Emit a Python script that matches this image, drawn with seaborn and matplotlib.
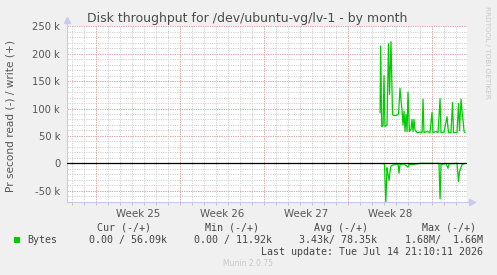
import matplotlib
matplotlib.use("Agg")
import matplotlib.pyplot as plt
import seaborn as sns
import pandas as pd
import numpy as np

# ---- data (x in days from left edge of the month window, values in bytes/s) ----
write_day = [26.13, 26.18, 26.27, 26.38, 26.46, 26.54, 26.71, 26.83, 26.92, 27.04,
             27.17, 27.29, 27.54, 27.67, 27.79, 27.88, 27.96, 28.04, 28.13, 28.21,
             28.29, 28.38, 28.46, 28.58, 28.71, 28.79, 28.88, 28.96, 29.04, 29.21,
             29.46, 29.63, 29.71, 29.79, 30.04, 30.29, 30.46, 30.54, 30.79, 30.96,
             31.13, 31.21, 31.46, 31.71, 31.83, 32.04, 32.17, 32.25, 32.54, 32.67,
             32.75, 32.79, 32.88, 32.96, 33.04, 33.13, 33.21]
write_k = [92, 214, 67, 68, 160, 67, 70, 218, 126, 222,
           89, 87, 88, 90, 137, 113, 98, 70, 95, 58,
           89, 58, 130, 58, 62, 80, 58, 80, 61, 56,
           57, 56, 117, 56, 58, 56, 93, 56, 58, 56,
           118, 56, 57, 85, 56, 56, 111, 56, 56, 109,
           60, 80, 117, 95, 80, 58, 56]
read_day = [26.38, 26.50, 26.61, 26.71, 26.79, 26.88, 26.96, 27.04, 27.21, 27.46,
            27.63, 27.71, 27.79, 28.13, 28.46, 28.54, 28.88, 29.21, 29.46, 31.04,
            31.13, 31.21, 31.63, 31.79, 31.88, 32.54, 32.67, 32.75, 32.83, 32.96, 33.21]
read_k = [0, -2, -72, -8, -20, -31, -15, -5, -3, -2,
          -1, -18, -2, -1, -7, -2, -2, -1, 0, 0,
          -65, -2, 0, -9, -1, 0, -33, -15, -10, -2, 0]

y_ticks = [-50000, 0, 50000, 100000, 150000, 200000, 250000]
y_ticklabels = ["-50 k", "0", "50 k", "100 k", "150 k", "200 k", "250 k"]
week_labels = ["Week 25", "Week 26", "Week 27", "Week 28"]
week_starts = [2.46, 9.46, 16.46, 23.46, 30.46]

title = "Disk throughput for /dev/ubuntu-vg/lv-1 - by month"
ylabel = "Pr second read (-) / write (+)"
legend_head = ["Cur (-/+)", "Min (-/+)", "Avg (-/+)", "Max (-/+)"]
legend_vals = ["0.00 / 56.09k", "0.00 / 11.92k", "3.43k/ 78.35k", "1.68M/  1.66M"]
last_update = "Last update: Tue Jul 14 21:10:11 2026"

# ---- style ----
sns.set_theme(style="white")
plt.rcParams["font.family"] = ["DejaVu Sans"]

W, H = 497, 275
fig = plt.figure(figsize=(W / 100, H / 100), dpi=100, facecolor="#F0F0F0")


def P(x, y):
    return (x / W, 1 - y / H)


ax_l, ax_r, ax_t, ax_b = 66.5, 467.5, 26.3, 201.7
ax = fig.add_axes([ax_l / W, 1 - ax_b / H, (ax_r - ax_l) / W, (ax_b - ax_t) / H])
ax.set_facecolor("white")
ax.set_xlim(0, (ax_r - ax_l) / 12.0)
ax.set_ylim(-70000, 250000)

minor_c = "#D0D0D0"
major_c = "#E4A8A8"
dot = (0, (1.2, 1.2))
# minor grid
for d in np.arange(week_starts[0] - 2, ax.get_xlim()[1], 1.0):
    ax.axvline(d, color=minor_c, lw=0.7, ls=dot, zorder=0.5)
for v in np.arange(-70000, 250001, 10000):
    ax.axhline(v, color=minor_c, lw=0.7, ls=dot, zorder=0.5)
# major grid
for d in week_starts:
    ax.axvline(d, color=major_c, lw=0.7, ls=dot, zorder=0.6)
for v in y_ticks:
    ax.axhline(v, color=major_c, lw=0.7, ls=dot, zorder=0.6)

df_w = pd.DataFrame({"day": write_day, "val": np.array(write_k) * 1000.0})
df_r = pd.DataFrame({"day": read_day, "val": np.array(read_k) * 1000.0})
sns.lineplot(data=df_w, x="day", y="val", ax=ax, color="#00CC00", lw=0.9,
             sort=False, estimator=None, zorder=3)
sns.lineplot(data=df_r, x="day", y="val", ax=ax, color="#00CC00", lw=0.9,
             sort=False, estimator=None, zorder=3)
ax.axhline(0, color="black", lw=0.9, zorder=4)

# axes / ticks
ax.set_xlabel("")
ax.set_ylabel("")
for s in ["top", "right"]:
    ax.spines[s].set_visible(False)
for s in ["left", "bottom"]:
    ax.spines[s].set_color("#C8C8F0")
    ax.spines[s].set_linewidth(0.8)
ax.set_yticks(y_ticks)
ax.set_yticklabels(y_ticklabels, fontsize=7.2, color="#555555")
ax.tick_params(axis="y", length=2, width=0.7, color="#999999", pad=2.5)
mids = [(week_starts[i] + week_starts[i + 1]) / 2 for i in range(4)]
ax.set_xticks(mids)
ax.set_xticklabels(week_labels, fontsize=7.4, color="#555555")
ax.tick_params(axis="x", length=0, pad=5)
ax.set_xticks(list(np.arange(week_starts[0] - 2, ax.get_xlim()[1], 1.0)), minor=True)
ax.tick_params(axis="x", which="minor", length=2, width=0.6, color="#BBBBBB", bottom=True)

# arrows
ax.plot([0], [1.035], marker="^", ms=4, color="#C8C8F0", transform=ax.transAxes, clip_on=False)
ax.plot([0, 0], [1, 1.03], color="#C8C8F0", lw=0.8, transform=ax.transAxes, clip_on=False)
ax.plot([1.01], [0], marker=">", ms=4, color="#C8C8F0", transform=ax.transAxes, clip_on=False)
ax.plot([1, 1.01], [0, 0], color="#C8C8F0", lw=0.8, transform=ax.transAxes, clip_on=False)

# texts
fig.text(*P(247.5, 18.5), title, fontsize=9.0, color="#4A4A4A", ha="center", va="center")
fig.text(*P(10.5, 116), ylabel, fontsize=7.6, color="#555555", ha="center", va="center",
         rotation=90)
fig.text(*P(487, 52), "RRDTOOL / TOBI OETIKER", fontsize=5.2, color="#C8C8C8",
         ha="center", va="center", rotation=270)

mono = "DejaVu Sans Mono"
head_x = [151, 259, 368, 476]
for hx, t in zip(head_x, legend_head):
    fig.text(*P(hx, 228), t, fontsize=7.2, family=mono, color="#444444", ha="right", va="center")
val_x = [167, 272, 377, 483]
for vx, t in zip(val_x, legend_vals):
    fig.text(*P(vx, 240), t, fontsize=7.2, family=mono, color="#444444", ha="right", va="center")
fig.patches.append(plt.Rectangle(P(14, 243), 6 / W, 6 / H, transform=fig.transFigure,
                                 facecolor="#00CC00", edgecolor="none"))
fig.text(*P(27, 240), "Bytes", fontsize=7.2, family=mono, color="#444444", ha="left", va="center")
fig.text(*P(483, 252), last_update, fontsize=7.2, family=mono, color="#444444",
         ha="right", va="center")
fig.text(*P(248, 264), "Munin 2.0.75", fontsize=5.5, color="#C8C8C8", ha="center", va="center")

fig.savefig("out.png", dpi=100, facecolor=fig.get_facecolor())
